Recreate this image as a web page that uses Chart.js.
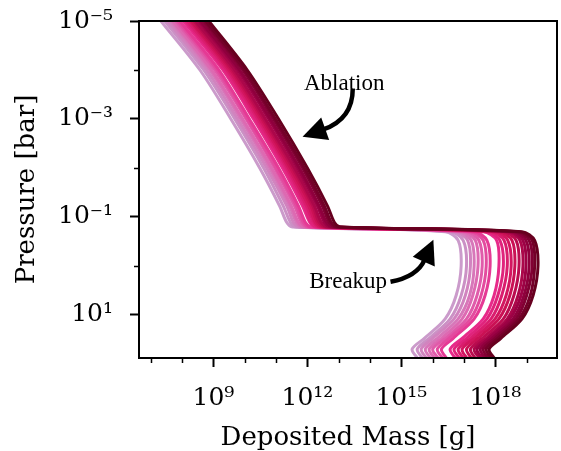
<!DOCTYPE html>
<html><head><meta charset="utf-8">
<script src="https://cdn.jsdelivr.net/npm/chart.js@4.4.1/dist/chart.umd.min.js"></script>
<style>html,body{margin:0;padding:0;background:#fff}#wrap{width:561px;height:451px}</style>
</head><body><div id="wrap"><canvas id="c" width="561" height="451"></canvas></div>
<script>
// Pressure levels [bar] shared by every curve
const pressure = [1e-5, 1e-4, 1e-3, 1e-2, 0.06, 0.13, 0.16, 0.2, 0.3, 1, 4, 12, 30, 50, 80];
// Deposited mass [g] for each curve (lightest -> darkest)
const mass00 = [2.1e7, 3.7e8, 3.6e9, 3.0e10, 1.3e11, 2.2e11, 3.3e11, 2.5e16, 6.5e16, 8.1e16, 5.6e16, 2.5e16, 5.4e15, 2.2e15, 3.5e15];
const mass01 = [2.8e7, 4.9e8, 4.8e9, 4.0e10, 1.7e11, 2.9e11, 4.5e11, 3.6e16, 9.4e16, 1.2e17, 8.1e16, 3.6e16, 7.7e15, 3.2e15, 5.0e15];
const mass02 = [3.5e7, 6.1e8, 5.9e9, 5.0e10, 2.2e11, 3.6e11, 5.6e11, 4.8e16, 1.3e17, 1.6e17, 1.1e17, 4.8e16, 1.0e16, 4.3e15, 6.7e15];
const mass03 = [4.4e7, 7.6e8, 7.4e9, 6.2e10, 2.7e11, 4.5e11, 7.0e11, 6.5e16, 1.7e17, 2.1e17, 1.5e17, 6.5e16, 1.4e16, 5.8e15, 9.0e15];
const mass04 = [5.1e7, 8.8e8, 8.6e9, 7.2e10, 3.1e11, 5.2e11, 8.1e11, 8.7e16, 2.3e17, 2.8e17, 1.9e17, 8.7e16, 1.9e16, 7.7e15, 1.2e16];
const mass05 = [6.3e7, 1.1e9, 1.1e10, 9.0e10, 3.9e11, 6.5e11, 1.0e12, 1.2e17, 3.0e17, 3.8e17, 2.6e17, 1.2e17, 2.5e16, 1.0e16, 1.6e16];
const mass06 = [7.3e7, 1.3e9, 1.2e10, 1.0e11, 4.5e11, 7.5e11, 1.2e12, 1.6e17, 4.1e17, 5.1e17, 3.5e17, 1.6e17, 3.3e16, 1.4e16, 2.2e16];
const mass07 = [8.5e7, 1.5e9, 1.4e10, 1.2e11, 5.2e11, 8.7e11, 1.3e12, 2.1e17, 5.4e17, 6.8e17, 4.7e17, 2.1e17, 4.5e16, 1.9e16, 2.9e16];
const mass08 = [1.1e8, 2.0e9, 1.9e10, 1.6e11, 7.0e11, 1.2e12, 1.8e12, 4.1e17, 1.1e18, 1.3e18, 9.1e17, 4.1e17, 8.7e16, 3.6e16, 5.6e16];
const mass09 = [1.3e8, 2.3e9, 2.2e10, 1.9e11, 8.1e11, 1.3e12, 2.1e12, 5.4e17, 1.4e18, 1.8e18, 1.2e18, 5.4e17, 1.2e17, 4.8e16, 7.5e16];
const mass10 = [1.5e8, 2.7e9, 2.6e10, 2.2e11, 9.4e11, 1.6e12, 2.4e12, 7.3e17, 1.9e18, 2.4e18, 1.6e18, 7.3e17, 1.6e17, 6.5e16, 1.0e17];
const mass11 = [1.8e8, 3.1e9, 3.0e10, 2.5e11, 1.1e12, 1.8e12, 2.8e12, 9.8e17, 2.5e18, 3.2e18, 2.2e18, 9.8e17, 2.1e17, 8.7e16, 1.3e17];
const mass12 = [2.0e8, 3.6e9, 3.5e10, 2.9e11, 1.3e12, 2.1e12, 3.3e12, 1.3e18, 3.4e18, 4.2e18, 2.9e18, 1.3e18, 2.8e17, 1.2e17, 1.8e17];
const mass13 = [2.4e8, 4.1e9, 4.0e10, 3.4e11, 1.5e12, 2.4e12, 3.8e12, 1.8e18, 4.6e18, 5.7e18, 3.9e18, 1.8e18, 3.8e17, 1.6e17, 2.4e17];
const mass14 = [2.7e8, 4.8e9, 4.6e10, 3.9e11, 1.7e12, 2.8e12, 4.4e12, 2.4e18, 6.1e18, 7.6e18, 5.3e18, 2.4e18, 5.1e17, 2.1e17, 3.3e17];
const mass15 = [3.4e8, 5.9e9, 5.8e10, 4.8e11, 2.1e12, 3.5e12, 5.4e12, 2.9e18, 7.6e18, 9.5e18, 6.6e18, 2.9e18, 6.3e17, 2.6e17, 4.1e17];
const mass16 = [3.9e8, 6.9e9, 6.7e10, 5.6e11, 2.4e12, 4.1e12, 6.3e12, 3.7e18, 9.5e18, 1.2e19, 8.2e18, 3.7e18, 7.9e17, 3.3e17, 5.1e17];
const mass17 = [4.9e8, 8.6e9, 8.3e10, 7.0e11, 3.0e12, 5.0e12, 7.8e12, 4.6e18, 1.2e19, 1.5e19, 1.0e19, 4.6e18, 9.8e17, 4.1e17, 6.3e17];
const mass18 = [5.7e8, 9.9e9, 9.6e10, 8.1e11, 3.5e12, 5.8e12, 9.1e12, 5.7e18, 1.5e19, 1.8e19, 1.3e19, 5.7e18, 1.2e18, 5.1e17, 7.9e17];
const mass19 = [7.1e8, 1.2e10, 1.2e11, 1.0e12, 4.4e12, 7.3e12, 1.1e13, 7.1e18, 1.8e19, 2.3e19, 1.6e19, 7.1e18, 1.5e18, 6.3e17, 9.8e17];

// Tick values and labels
const xTickValues = [1e7, 1e8, 1e9, 1e10, 1e11, 1e12, 1e13, 1e14, 1e15, 1e16, 1e17, 1e18, 1e19];
const xTickLabels = ['', '', '10⁹', '', '', '10¹²', '', '', '10¹⁵', '', '', '10¹⁸', ''];
const yTickValues = [1e-5, 1e-4, 1e-3, 1e-2, 1e-1, 1, 10];
const yTickLabels = ['10⁻⁵', '', '10⁻³', '', '10⁻¹', '', '10¹'];

// Annotations (anchored in data coordinates)
const annotations = [
  {text: 'Ablation', at: [1.5e13, 2.6e-4], from: [2.8e13, 2.4e-4], via: [2.8e13, 1.0e-3], to: [7.0e11, 2.3e-3]},
  {text: 'Breakup', at: [2.0e13, 2.8], from: [4.5e14, 2.1], via: [3.2e15, 1.65], to: [1.05e16, 0.29]}
];

// Styles
const lineColors = ['rgb(203,155,203)','rgb(203,145,197)','rgb(209,132,191)','rgb(215,119,185)','rgb(221,106,178)',
  'rgb(224,91,170)','rgb(227,75,159)','rgb(229,58,149)','rgb(231,42,138)','rgb(224,35,124)',
  'rgb(218,29,110)','rgb(211,22,96)','rgb(202,17,84)','rgb(187,12,79)','rgb(172,7,74)',
  'rgb(157,2,69)','rgb(143,0,61)','rgb(130,0,51)','rgb(116,0,41)','rgb(103,0,31)'];

const series = [mass00, mass01, mass02, mass03, mass04, mass05, mass06, mass07, mass08, mass09,
  mass10, mass11, mass12, mass13, mass14, mass15, mass16, mass17, mass18, mass19];

const datasets = series.map((m, i) => ({
  data: m.map((v, j) => ({x: v, y: pressure[j]})),
  borderColor: lineColors[i],
  borderWidth: 3,
  pointRadius: 0,
  tension: 0.3,
  fill: false,
  order: series.length - 1 - i
}));

const serif = 'DejaVu Serif';
const zeroPad = s => { s.paddingTop = 0; s.paddingBottom = 0; s.paddingLeft = 0; s.paddingRight = 0; };

const extras = {
  id: 'extras',
  afterDraw(chart) {
    const {ctx, chartArea: a, scales: {x, y}} = chart;
    ctx.save();
    // minor ticks
    ctx.strokeStyle = '#000';
    ctx.lineWidth = 1.5;
    xTickValues.forEach((v, i) => {
      if (xTickLabels[i]) return;
      const px = Math.round(x.getPixelForValue(v)) + 0.5;
      ctx.beginPath(); ctx.moveTo(px, a.bottom); ctx.lineTo(px, a.bottom + 5); ctx.stroke();
    });
    yTickValues.forEach((v, i) => {
      if (yTickLabels[i]) return;
      const py = Math.round(y.getPixelForValue(v)) + 0.5;
      ctx.beginPath(); ctx.moveTo(a.left, py); ctx.lineTo(a.left - 5, py); ctx.stroke();
    });
    // frame
    ctx.lineWidth = 2;
    ctx.strokeRect(a.left, a.top, a.right - a.left, a.bottom - a.top);
    // annotations
    ctx.fillStyle = '#000';
    ctx.strokeStyle = '#000';
    annotations.forEach(n => {
      const P = p => ({x: x.getPixelForValue(p[0]), y: y.getPixelForValue(p[1])});
      const S = P(n.from), C = P(n.via), T = P(n.to), A = P(n.at);
      const dx = T.x - C.x, dy = T.y - C.y, L = Math.hypot(dx, dy);
      const ux = dx / L, uy = dy / L;
      const hl = 24, hw = 12;
      const B = {x: T.x - ux * hl, y: T.y - uy * hl};
      ctx.lineWidth = 4.5;
      ctx.beginPath();
      ctx.moveTo(S.x, S.y);
      ctx.quadraticCurveTo(C.x, C.y, B.x + ux * 2, B.y + uy * 2);
      ctx.stroke();
      ctx.beginPath();
      ctx.moveTo(T.x, T.y);
      ctx.lineTo(B.x - uy * hw, B.y + ux * hw);
      ctx.lineTo(B.x + uy * hw, B.y - ux * hw);
      ctx.closePath();
      ctx.fill();
      ctx.font = '23px "Liberation Serif"';
      ctx.textAlign = 'center';
      ctx.textBaseline = 'alphabetic';
      ctx.fillText(n.text, A.x, A.y);
    });
    ctx.restore();
  }
};

new Chart(document.getElementById('c'), {
  type: 'line',
  data: {datasets},
  plugins: [extras],
  options: {
    responsive: false,
    animation: false,
    devicePixelRatio: 1,
    layout: {padding: {top: 21, right: 4, left: 0, bottom: 0}},
    plugins: {legend: {display: false}, tooltip: {enabled: false}},
    elements: {line: {capBezierPoints: false}, point: {radius: 0}},
    scales: {
      x: {
        type: 'logarithmic',
        position: 'bottom',
        min: 4.2e6,
        max: 9.3e19,
        afterBuildTicks: s => { s.ticks = xTickValues.map(v => ({value: v})); },
        afterFit: s => { s.height = 93; zeroPad(s); },
        ticks: {
          autoSkip: false, maxRotation: 0, minRotation: 0, padding: 16, color: '#000',
          font: {family: serif, size: 25},
          callback: (v, i) => xTickLabels[i]
        },
        grid: {
          drawOnChartArea: false, drawTicks: true, tickLength: 9, tickWidth: 2,
          tickColor: c => xTickLabels[c.index] ? '#000' : 'rgba(0,0,0,0)'
        },
        border: {display: true, color: '#000', width: 2},
        title: {display: true, text: 'Deposited Mass [g]', color: '#000',
          font: {family: serif, size: 26, lineHeight: 1.0}, padding: {top: 0, bottom: 0}}
      },
      y: {
        type: 'logarithmic',
        position: 'left',
        reverse: true,
        min: 1e-5,
        max: 75.5,
        afterBuildTicks: s => { s.ticks = yTickValues.map(v => ({value: v})); },
        afterFit: s => { s.width = 139; zeroPad(s); },
        ticks: {
          autoSkip: false, padding: 17, color: '#000',
          font: {family: serif, size: 25},
          callback: (v, i) => yTickLabels[i]
        },
        grid: {
          drawOnChartArea: false, drawTicks: true, tickLength: 9, tickWidth: 2,
          tickColor: c => yTickLabels[c.index] ? '#000' : 'rgba(0,0,0,0)'
        },
        border: {display: true, color: '#000', width: 2},
        title: {display: true, text: 'Pressure [bar]', color: '#000',
          font: {family: serif, size: 26}, padding: {top: 12, bottom: 0}}
      }
    }
  }
});
</script>
</body></html>
